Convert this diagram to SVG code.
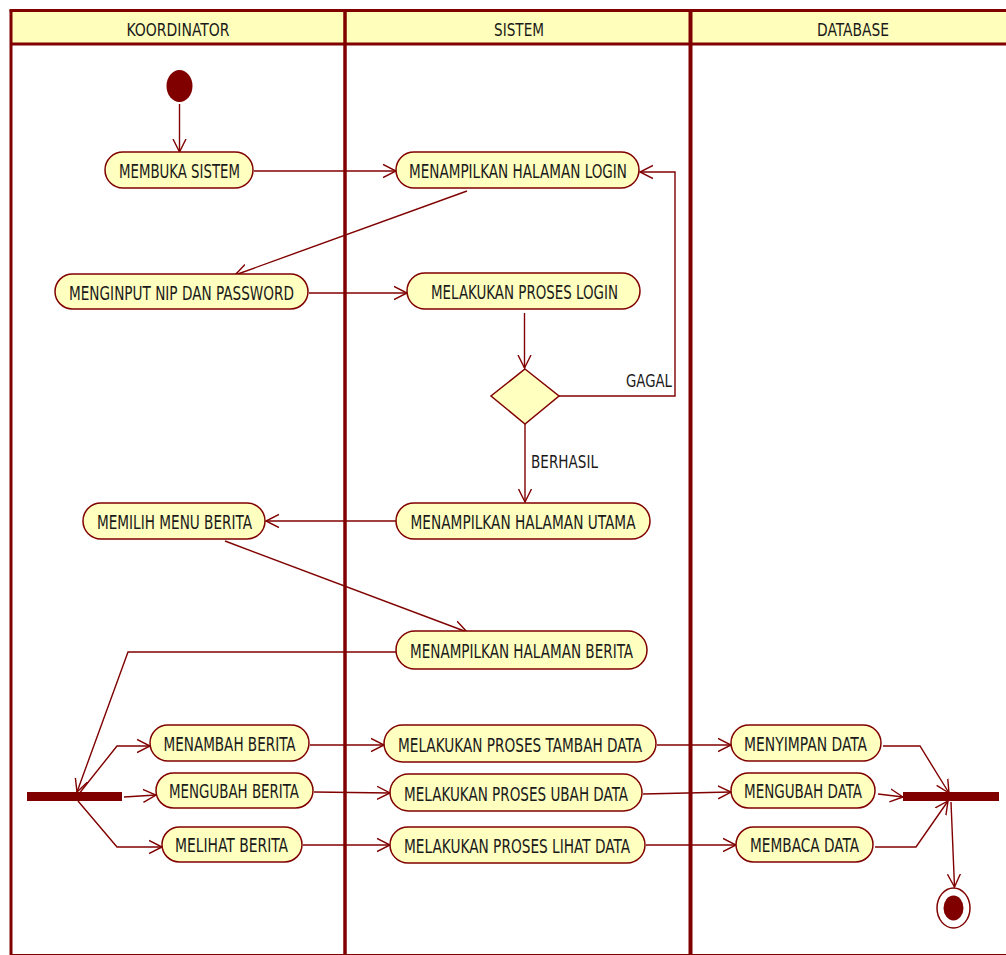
<svg xmlns="http://www.w3.org/2000/svg" width="1006" height="955" viewBox="0 0 1006 955">
<style>
.node rect{fill:#FFFFC0;stroke:#800000;stroke-width:1.5}
.lbl{font-family:"Liberation Sans Narrow","DejaVu Sans Condensed","Liberation Sans",sans-serif;font-size:20px;fill:#1a1a1a;text-anchor:middle}
.hdr{font-family:"Liberation Sans Narrow","DejaVu Sans Condensed","Liberation Sans",sans-serif;font-size:18px;fill:#1a1a1a;text-anchor:middle}
.small{font-family:"Liberation Sans Narrow","DejaVu Sans Condensed","Liberation Sans",sans-serif;font-size:17px;fill:#1a1a1a}
.conn path,.conn line{fill:none;stroke:#800000;stroke-width:1.4;marker-end:url(#arr)}
.lane{stroke:#800000;fill:none}
</style>
<defs>
<marker id="arr" markerUnits="userSpaceOnUse" markerWidth="16" markerHeight="16" refX="13" refY="7" orient="auto" viewBox="0 0 16 14">
<path d="M0,0.5 L13,7 L0,13.5" fill="none" stroke="#800000" stroke-width="1.4"/>
</marker>
</defs>
<rect width="1006" height="955" fill="#ffffff"/>
<g id="swimlanes">
<rect x="11" y="11" width="1000" height="33" fill="#FFFFBB"/>
<line class="lane" x1="9.5" y1="10.5" x2="1010" y2="10.5" stroke-width="3"/>
<line class="lane" x1="11" y1="10" x2="11" y2="955" stroke-width="3"/>
<line class="lane" x1="10" y1="44" x2="1010" y2="44" stroke-width="3"/>
<line class="lane" x1="345" y1="10" x2="345" y2="955" stroke-width="3.5"/>
<line class="lane" x1="690.5" y1="10" x2="690.5" y2="955" stroke-width="4"/>
<line class="lane" x1="10" y1="954.5" x2="1010" y2="954.5" stroke-width="1.2"/>
<text class="hdr" x="178" y="36" textLength="103" lengthAdjust="spacingAndGlyphs">KOORDINATOR</text>
<text class="hdr" x="519" y="36" textLength="50" lengthAdjust="spacingAndGlyphs">SISTEM</text>
<text class="hdr" x="853" y="36" textLength="72" lengthAdjust="spacingAndGlyphs">DATABASE</text>
</g>
<g id="connectors" class="conn">
<line x1="179.5" y1="104" x2="179.5" y2="152"/>
<line x1="254" y1="171" x2="396" y2="171"/>
<line x1="467" y1="191" x2="235" y2="275"/>
<line x1="309" y1="293" x2="407" y2="293"/>
<line x1="524.5" y1="313" x2="524.5" y2="368"/>
<path d="M559,396 L675,396 L675,172 L640,172"/>
<line x1="525" y1="424" x2="525" y2="502"/>
<line x1="396" y1="521" x2="266" y2="521"/>
<line x1="225" y1="541" x2="467" y2="632"/>
<path d="M396,652 L128,652 L77,792"/>
<path d="M78,795 L117,746 L150,746"/>
<line x1="124" y1="797" x2="156" y2="795"/>
<path d="M78,801 L117,847 L162,847"/>
<line x1="310" y1="745" x2="384" y2="745"/>
<line x1="314" y1="792" x2="390" y2="793"/>
<line x1="303" y1="845" x2="390" y2="845"/>
<line x1="657" y1="745" x2="731" y2="745"/>
<line x1="643" y1="794" x2="731" y2="792"/>
<line x1="646" y1="845" x2="736" y2="845"/>
<path d="M883,746 L920,746 L949,793"/>
<line x1="878" y1="794" x2="903" y2="797"/>
<path d="M875,847 L916,847 L948,801"/>
<line x1="951" y1="802" x2="954.5" y2="887"/>
<text class="small" x="626" y="387" textLength="46" lengthAdjust="spacingAndGlyphs">GAGAL</text>
<text class="small" x="531" y="468" textLength="67" lengthAdjust="spacingAndGlyphs">BERHASIL</text>
</g>
<g id="start"><ellipse cx="179.5" cy="86" rx="13" ry="16" fill="#800000"/></g>
<g id="n-membuka" class="node"><rect x="105" y="152" width="148" height="36" rx="18"/><text class="lbl" x="179.5" y="178" textLength="121" lengthAdjust="spacingAndGlyphs">MEMBUKA SISTEM</text></g>
<g id="n-login" class="node"><rect x="396" y="152" width="243" height="36" rx="18"/><text class="lbl" x="518" y="178" textLength="218" lengthAdjust="spacingAndGlyphs">MENAMPILKAN HALAMAN LOGIN</text></g>
<g id="n-input" class="node"><rect x="55" y="274" width="253" height="35" rx="17.5"/><text class="lbl" x="181.5" y="299.5" textLength="225" lengthAdjust="spacingAndGlyphs">MENGINPUT NIP DAN PASSWORD</text></g>
<g id="n-proses-login" class="node"><rect x="407" y="273" width="233" height="36" rx="18"/><text class="lbl" x="524.5" y="299" textLength="187" lengthAdjust="spacingAndGlyphs">MELAKUKAN PROSES LOGIN</text></g>
<g id="decision"><polygon points="525,369 559,396 525,424 491,396" fill="#FFFFC0" stroke="#800000" stroke-width="1.5"/></g>
<g id="n-utama" class="node"><rect x="396" y="503" width="254" height="36" rx="18"/><text class="lbl" x="523" y="529" textLength="225" lengthAdjust="spacingAndGlyphs">MENAMPILKAN HALAMAN UTAMA</text></g>
<g id="n-memilih" class="node"><rect x="83" y="503" width="182" height="36" rx="18"/><text class="lbl" x="174.5" y="529" textLength="155" lengthAdjust="spacingAndGlyphs">MEMILIH MENU BERITA</text></g>
<g id="n-hal-berita" class="node"><rect x="396" y="631" width="251" height="38" rx="19"/><text class="lbl" x="521.5" y="658" textLength="223" lengthAdjust="spacingAndGlyphs">MENAMPILKAN HALAMAN BERITA</text></g>
<g id="fork"><rect x="27" y="792" width="95" height="9" fill="#800000"/></g>
<g id="n-menambah" class="node"><rect x="150" y="725" width="159" height="36" rx="18"/><text class="lbl" x="229.5" y="751" textLength="132" lengthAdjust="spacingAndGlyphs">MENAMBAH BERITA</text></g>
<g id="n-mengubah" class="node"><rect x="156" y="773" width="157" height="35" rx="17.5"/><text class="lbl" x="234" y="798" textLength="130" lengthAdjust="spacingAndGlyphs">MENGUBAH BERITA</text></g>
<g id="n-melihat" class="node"><rect x="162" y="827" width="140" height="35" rx="17.5"/><text class="lbl" x="231.5" y="852" textLength="113" lengthAdjust="spacingAndGlyphs">MELIHAT BERITA</text></g>
<g id="n-tambah" class="node"><rect x="384" y="725" width="272" height="37" rx="18.5"/><text class="lbl" x="520" y="751.5" textLength="244" lengthAdjust="spacingAndGlyphs">MELAKUKAN PROSES TAMBAH DATA</text></g>
<g id="n-ubah" class="node"><rect x="390" y="774" width="252" height="37" rx="18.5"/><text class="lbl" x="516" y="800.5" textLength="224" lengthAdjust="spacingAndGlyphs">MELAKUKAN PROSES UBAH DATA</text></g>
<g id="n-lihat" class="node"><rect x="390" y="827" width="255" height="36" rx="18"/><text class="lbl" x="517" y="853" textLength="226" lengthAdjust="spacingAndGlyphs">MELAKUKAN PROSES LIHAT DATA</text></g>
<g id="n-menyimpan" class="node"><rect x="731" y="725" width="150" height="36" rx="18"/><text class="lbl" x="805.5" y="751" textLength="123" lengthAdjust="spacingAndGlyphs">MENYIMPAN DATA</text></g>
<g id="n-mengubah-data" class="node"><rect x="731" y="773" width="144" height="35" rx="17.5"/><text class="lbl" x="803" y="798" textLength="118" lengthAdjust="spacingAndGlyphs">MENGUBAH DATA</text></g>
<g id="n-membaca" class="node"><rect x="736" y="827" width="137" height="35" rx="17.5"/><text class="lbl" x="804.5" y="852" textLength="109" lengthAdjust="spacingAndGlyphs">MEMBACA DATA</text></g>
<g id="join"><rect x="903" y="792" width="96" height="9" fill="#800000"/></g>
<g id="end"><ellipse cx="953.5" cy="908" rx="16.5" ry="20" fill="#ffffff" stroke="#800000" stroke-width="1.5"/><ellipse cx="953.5" cy="908" rx="10" ry="12.5" fill="#800000"/></g>
</svg>
